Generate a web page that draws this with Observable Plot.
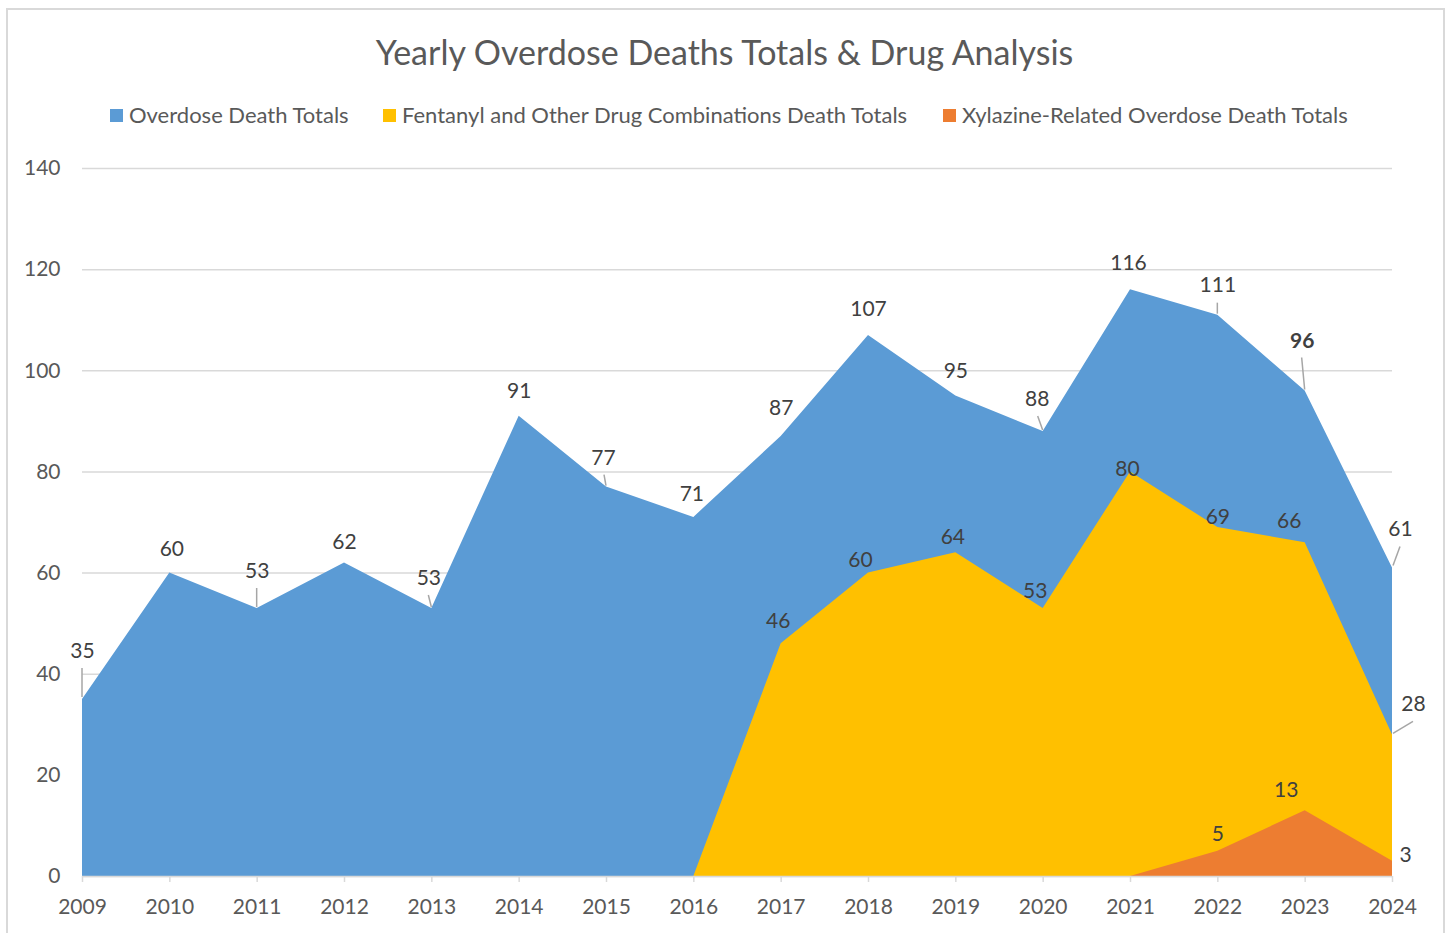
<!DOCTYPE html>
<html>
<head>
<meta charset="utf-8">
<script src="https://cdn.jsdelivr.net/npm/d3@7"></script>
<script src="https://cdn.jsdelivr.net/npm/@observablehq/plot@0.6"></script>
<style>
  html, body { margin: 0; padding: 0; background: #fff; }
  #frame { position: relative; width: 1449px; height: 933px; overflow: hidden; font-family: Lato, "Open Sans", sans-serif; }
  #border { position: absolute; left: 6px; top: 8px; width: 1439px; height: 940px; border: 2px solid #d9d9d9; box-sizing: border-box; }
  #title { position: absolute; left: 0; width: 1449px; top: 31px; text-align: center; font-size: 34px; color: #595959; line-height: 42px; }
  #legend { position: absolute; top: 102px; left: 0; height: 26px; font-size: 22px; color: #595959; line-height: 26px; }
  .li { position: absolute; white-space: nowrap; }
  .sw { position: absolute; top: 7px; width: 13px; height: 13px; }
  #chart { position: absolute; left: 0; top: 0; }
</style>
</head>
<body>
<div id="frame">
  <div id="border"></div>
  <div id="title">Yearly Overdose Deaths Totals &amp; Drug Analysis</div>
  <div id="legend"></div>
  <div id="chart"></div>
</div>
<script>
// ---- data ----
const years = [2009, 2010, 2011, 2012, 2013, 2014, 2015, 2016, 2017, 2018, 2019, 2020, 2021, 2022, 2023, 2024];
const overdoseTotals = [35, 60, 53, 62, 53, 91, 77, 71, 87, 107, 95, 88, 116, 111, 96, 61];
const fentanylTotals = [0, 0, 0, 0, 0, 0, 0, 0, 46, 60, 64, 53, 80, 69, 66, 28];
const xylazineTotals = [0, 0, 0, 0, 0, 0, 0, 0, 0, 0, 0, 0, 0, 5, 13, 3];
const seriesNames = ["Overdose Death Totals", "Fentanyl and Other Drug Combinations Death Totals", "Xylazine-Related Overdose Death Totals"];
const yTicks = [0, 20, 40, 60, 80, 100, 120, 140];

// ---- styling (not data) ----
const colors = ["#5B9BD5", "#FFC000", "#ED7D31"];
const legendPos = [{sw: 110, tx: 129}, {sw: 383, tx: 402}, {sw: 943, tx: 962}];
// label offsets in pixels relative to the point [dx, dy]
const labelOffsets = [
  {2009:[0,-48],2010:[2,-24],2011:[0,-37],2012:[0,-21],2013:[-3,-30],2014:[0,-25],2015:[-3,-29],2016:[-2,-23],
   2017:[0,-28],2018:[0,-26],2019:[0,-25],2020:[-6,-32],2021:[-2,-27],2022:[0,-30],2023:[-3,-50],2024:[8,-39]},
  {2017:[-3,-23],2018:[-8,-13],2019:[-3,-16],2020:[-8,-17],2021:[-3,-3],2022:[0,-10],2023:[-16,-21],2024:[21,-31]},
  {2022:[0,-17],2023:[-19,-20],2024:[13,-6]}
];
// leader lines: [series, year, start dx, start dy, end dx, end dy]
const leaders = [
  [0, 2009, 0, -2, 0, -31], [0, 2011, 0, -1, 0, -20], [0, 2013, 0, -1, -3, -13], [0, 2015, 0, -1, -2, -12],
  [0, 2020, 0, -1, -5, -15], [0, 2022, 0, -1, 0, -12], [0, 2023, 0, -1, -3, -33], [0, 2024, 1, -2, 8, -21],
  [1, 2024, 1, -1, 21, -13]
];

// ---- legend ----
const legend = document.getElementById("legend");
seriesNames.forEach((name, i) => {
  const sw = document.createElement("div");
  sw.className = "sw"; sw.style.left = legendPos[i].sw + "px"; sw.style.background = colors[i];
  legend.appendChild(sw);
  const t = document.createElement("div");
  t.className = "li"; t.style.left = legendPos[i].tx + "px"; t.textContent = name;
  legend.appendChild(t);
});

// ---- build tables ----
const allSeries = [overdoseTotals, fentanylTotals, xylazineTotals];
const tables = allSeries.map((vals, s) => years.map((year, i) => ({year, value: vals[i], s})));

const labelMarks = [];
tables.forEach((tbl, s) => {
  tbl.forEach(d => {
    const off = labelOffsets[s][d.year];
    if (!off) return;
    labelMarks.push(Plot.text([d], {
      x: "year", y: "value", text: d => String(d.value),
      dx: off[0], dy: off[1], fontSize: 21, fill: "#404040",
      fontWeight: (s === 0 && d.year === 2023) ? "bold" : "normal"
    }));
  });
});

const leaderMark = (index, scales) => {
  const g = d3.create("svg:g").attr("stroke", "#a6a6a6").attr("stroke-width", 1.5);
  for (const [s, year, sx, sy, ex, ey] of leaders) {
    const v = allSeries[s][years.indexOf(year)];
    const px = scales.x(year), py = scales.y(v);
    g.append("line").attr("x1", px + sx).attr("y1", py + sy).attr("x2", px + ex).attr("y2", py + ey);
  }
  return g.node();
};

const plot = Plot.plot({
  width: 1449,
  height: 933,
  marginTop: 168,
  marginBottom: 57,
  marginLeft: 82,
  marginRight: 57,
  style: {fontFamily: "Lato, 'Open Sans', sans-serif", fontSize: "21px", color: "#595959", background: "transparent"},
  x: {domain: [2009, 2024]},
  y: {domain: [0, 140]},
  marks: [
    Plot.gridY(yTicks, {stroke: "#d9d9d9", strokeOpacity: 1, strokeWidth: 1.5}),
    Plot.areaY(tables[0], {x: "year", y1: 0, y2: "value", fill: colors[0], fillOpacity: 1}),
    Plot.areaY(tables[1], {x: "year", y1: 0, y2: "value", fill: colors[1], fillOpacity: 1}),
    Plot.areaY(tables[2], {x: "year", y1: 0, y2: "value", fill: colors[2], fillOpacity: 1}),
    Plot.ruleY([0], {stroke: "#d9d9d9", strokeWidth: 1.5}),
    Plot.axisY(yTicks, {tickSize: 0, tickPadding: 22, fontSize: 21, fill: "#595959", label: null}),
    Plot.axisX(years, {tickFormat: d => String(d), tickSize: 6, tickPadding: 17, fontSize: 21, fill: "#595959", stroke: "#d9d9d9", strokeWidth: 1.5, label: null}),
    leaderMark,
    ...labelMarks
  ]
});
document.getElementById("chart").appendChild(plot);
</script>
</body>
</html>
